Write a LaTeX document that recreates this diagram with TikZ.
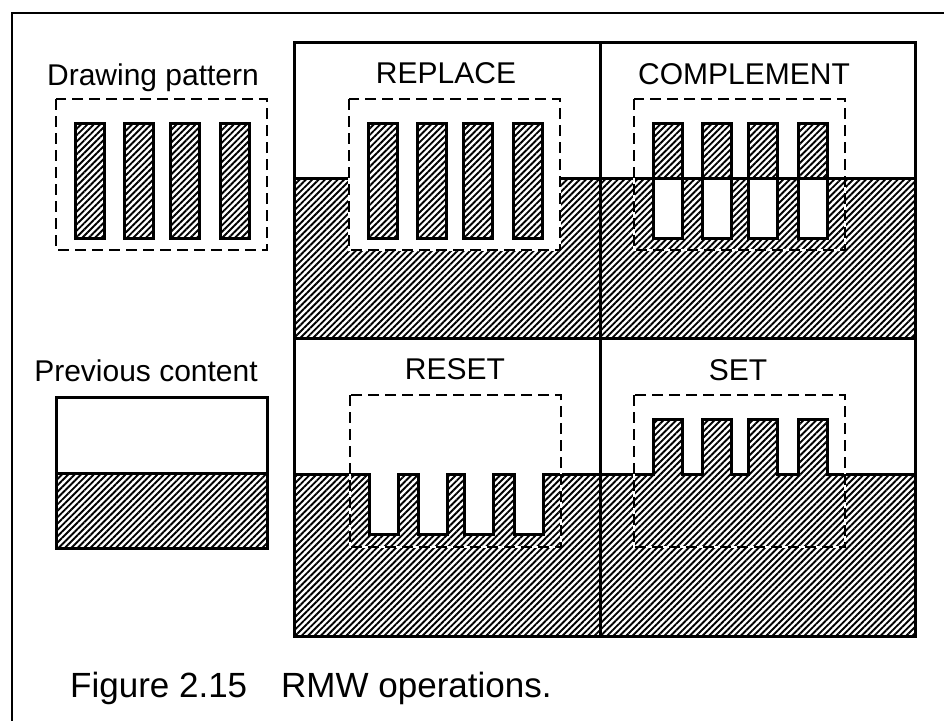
\documentclass[tikz,border=0pt]{standalone}
\usepackage{fontspec}
\setmainfont{Liberation Sans}
\usetikzlibrary{patterns.meta}
\tikzset{
  gridline/.style={line width=3pt},
  barline/.style={line width=3pt, line join=miter},
  dashbox/.style={line width=2.8pt, dash pattern=on 11pt off 6pt},
  hatch/.style={pattern={Lines[angle=45,distance=4.5pt,line width=1.9pt]}},
  frameline/.style={line width=2pt},
  lab/.style={font=\fontsize{30}{36}\selectfont, inner sep=0pt, anchor=base},
  captext/.style={font=\fontsize{35}{42}\selectfont, inner sep=0pt, anchor=base west}
}
\newcommand{\dashedframe}[2]{%
  \draw[white, line width=2.8pt] #1 rectangle #2;
  \draw[dashbox] #1 rectangle #2;}
\begin{document}
\begin{tikzpicture}[x=1pt,y=-1pt]
\useasboundingbox (0,0) rectangle (944,721);
\fill[white] (0,0) rectangle (944,721);
\def\bars{19,68,114,164}

% ---------- Drawing pattern ----------
\node[lab] (dplabel) at (153,85) {Drawing pattern};
\foreach \o in \bars { \draw[barline, hatch] ({56+\o},123) rectangle ++(29,115); }
\dashedframe{(56,99)}{(267,250)}

% ---------- Previous content ----------
\node[lab] (pclabel) at (146,381) {Previous content};
\draw[barline] (56,397) rectangle (267,548);
\draw[barline, hatch] (56,473) rectangle (267,548);

% ---------- REPLACE ----------
\fill[hatch] (294,178) -- (349,178) -- (349,250) -- (560,250) -- (560,178) -- (600,178) -- (600,338) -- (294,338) -- cycle;
\draw[barline] (294,178) -- (349,178);
\draw[barline] (560,178) -- (600,178);
\foreach \o in \bars { \draw[barline, hatch] ({349+\o},123) rectangle ++(29,115); }
\dashedframe{(349,99)}{(560,250)}
\node[lab] (replace) at (446,83) {REPLACE};

% ---------- COMPLEMENT ----------
\draw[barline, hatch] (600,178) rectangle (915,338);
\foreach \o in \bars {
  \draw[barline, hatch] ({634+\o},123) rectangle ++(29,55);
  \draw[barline, fill=white] ({634+\o},178) rectangle ++(29,60);
}
\dashedframe{(634,99)}{(845,250)}
\node[lab] (complement) at (744,84) {COMPLEMENT};

% ---------- RESET ----------
\draw[barline, hatch] (294,474) \foreach \o in \bars { -- ({350+\o},474) -- ++(0,60) -- ++(29,0) -- ++(0,-60) } -- (600,474) -- (600,636) -- (294,636) -- cycle;
\dashedframe{(350,395)}{(561,547)}
\node[lab] (reset) at (455,379) {RESET};

% ---------- SET ----------
\draw[barline, hatch] (600,474) \foreach \o in \bars { -- ({634+\o},474) -- ++(0,-55) -- ++(29,0) -- ++(0,55) } -- (915,474) -- (915,636) -- (600,636) -- cycle;
\dashedframe{(634,395)}{(845,547)}
\node[lab] (set) at (738,380) {SET};

% ---------- grid ----------
\draw[gridline] (294,42) rectangle (915,636);
\draw[gridline] (600,42) -- (600,636);
\draw[gridline] (294,338) -- (915,338);

% ---------- frame & caption ----------
\draw[frameline] (944,13) -- (12,13) -- (12,721);
\node[captext] (caption) at (70,697) {Figure 2.15\hspace{34pt}RMW operations.};
\end{tikzpicture}
\end{document}
